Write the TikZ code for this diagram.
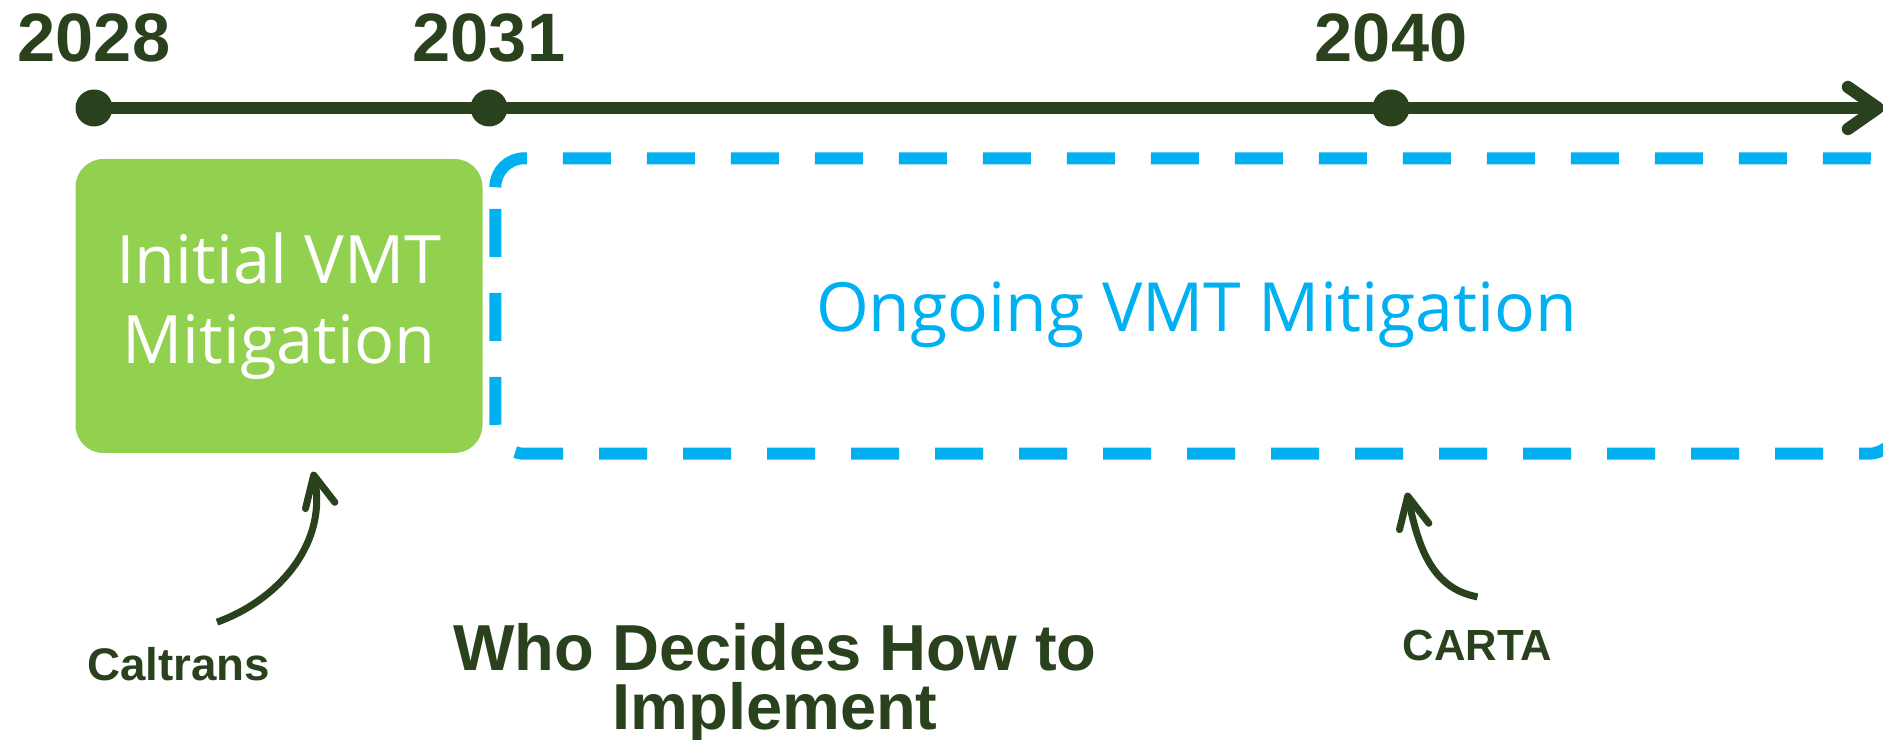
\documentclass[tikz,border=0pt]{standalone}
\usepackage{fontspec}
\setmainfont{Liberation Sans}
\newfontfamily\boxfont{Open Sans}
\usetikzlibrary{arrows.meta}
\definecolor{labelgreen}{RGB}{41, 66, 29}
\definecolor{initialgreen}{RGB}{146, 208, 80}
\definecolor{ongoingblue}{RGB}{0, 176, 240}

\begin{document}
\begin{tikzpicture}[
        yeardot/.style={circle, fill=labelgreen, minimum size=0.37cm, inner sep=0pt},
        yearlabel/.style={anchor=base, inner sep=0pt, text=labelgreen, font=\fontsize{19.5}{23}\selectfont\bfseries},
        timeline/.style={-{Straight Barb[length=3mm, width=4.2mm, round]}, line width=3.5pt, draw=labelgreen},
        initialbox/.style={rectangle, rounded corners=0.28cm, fill=initialgreen, minimum width=4.07cm, minimum height=2.94cm, inner sep=0pt, align=center, text=white, font=\boxfont\fontsize{19}{22.8}\selectfont},
        ongoingbox/.style={rectangle, minimum width=14.01cm, minimum height=2.94cm, inner sep=0pt, text height=0.68cm, text depth=0.16cm, text=ongoingblue, font=\boxfont\fontsize{19.3}{23}\selectfont},
        ongoingborder/.style={draw=ongoingblue, line width=3.4pt, rounded corners=0.29cm, dash pattern=on 4.8mm off 3.6mm},
        agency/.style={anchor=base, inner sep=0pt, text=labelgreen, font=\fontsize{13}{15.6}\selectfont\bfseries},
        question/.style={anchor=north, align=center, inner sep=0pt, text=labelgreen, font=\fontsize{18.5}{16.8}\selectfont\bfseries},
        pointer/.style={-{Straight Barb[length=3.1mm, width=3mm, round]}, line width=2pt, draw=labelgreen}
    ]
    
    % Canvas
    \useasboundingbox (0, 0) rectangle (18.83, 7.40);
    
    % Timeline with year markers
    \node[yeardot] (dot2028) at (0.94, 6.32) {};
    \node[yeardot] (dot2031) at (4.89, 6.32) {};
    \node[yeardot] (dot2040) at (13.91, 6.32) {};
    \coordinate (lineend) at (18.84, 6.32);
    \draw[timeline] (dot2028.center) -- (lineend);
    
    \node[yearlabel] (year2028) at (0.94, 6.78) {2028};
    \node[yearlabel] (year2031) at (4.89, 6.78) {2031};
    \node[yearlabel] (year2040) at (13.91, 6.78) {2040};
    
    % Mitigation phases
    \node[initialbox] (initial) at (2.79, 4.34) {Initial VMT\\Mitigation};
    \node[ongoingbox] (ongoing) at (11.965, 4.34) {Ongoing VMT Mitigation};
    % dashed border starts at the top left corner
    \coordinate (borderstart) at ([yshift=-0.29cm]ongoing.north west);
    \draw[ongoingborder] (borderstart) -- (ongoing.north west) -- (ongoing.north east)
        -- (ongoing.south east) -- (ongoing.south west) -- (borderstart);
    
    % Responsible agencies
    \node[agency] (caltrans) at (1.785, 0.59) {Caltrans};
    \node[agency, font=\fontsize{12.4}{15}\selectfont\bfseries] (carta) at (14.775, 0.79) {CARTA};
    \node[question] (decides) at (7.75, 1.17) {Who Decides How to\\Implement};
    
    \draw[pointer] ([shift={(0.385, 0.25)}]caltrans.north) to[out=20, in=-78] ([shift={(0.34, -0.18)}]initial.south);
    \draw[pointer] ([yshift=0.33cm]carta.north) to[out=170, in=-78] ([shift={(2.105, -0.39)}]ongoing.south);
    
\end{tikzpicture}
\end{document}
